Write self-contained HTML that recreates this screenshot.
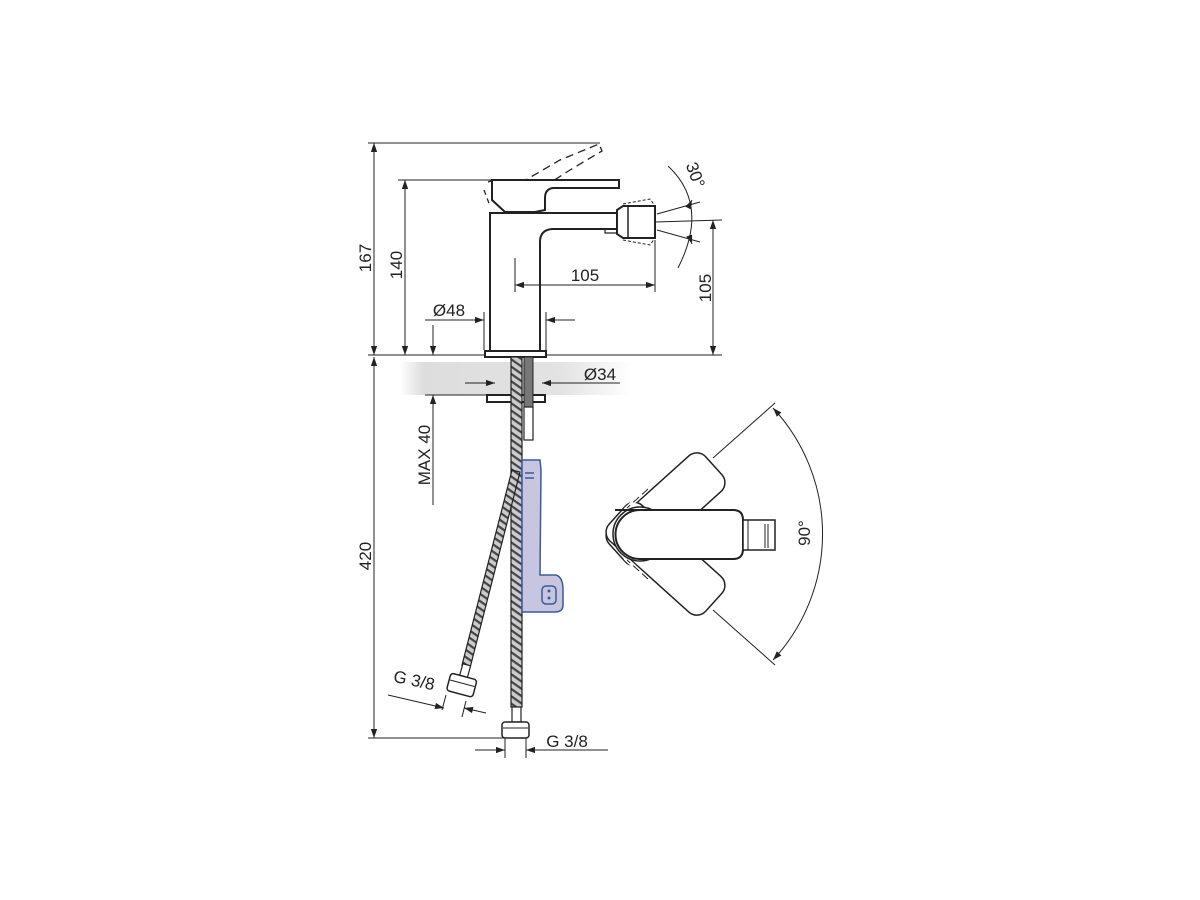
<!DOCTYPE html>
<html><head><meta charset="utf-8"><style>
html,body{margin:0;padding:0;background:#fff;width:1200px;height:900px;overflow:hidden}
svg{display:block}
text{font-family:"Liberation Sans",sans-serif;font-size:17px;fill:#222}
</style></head><body>
<svg width="1200" height="900" viewBox="0 0 1200 900" xmlns="http://www.w3.org/2000/svg">
<defs>
<marker id="a" viewBox="0 0 10 10" refX="10" refY="5" markerWidth="9" markerHeight="9" orient="auto-start-reverse" markerUnits="userSpaceOnUse"><path d="M0,1.5 L10,5 L0,8.5 z" fill="#222"/></marker>
<pattern id="h" width="6" height="6" patternUnits="userSpaceOnUse" patternTransform="rotate(35)"><rect width="6" height="6" fill="#ccc"/><rect width="6" height="2.2" fill="#444"/></pattern>
<linearGradient id="g" x1="0" x2="1" y1="0" y2="0"><stop offset="0" stop-color="#fff"/><stop offset="0.1" stop-color="#ddd"/><stop offset="0.7" stop-color="#e3e3e3"/><stop offset="1" stop-color="#fff"/></linearGradient>
</defs>
<g stroke="#222" fill="none" stroke-width="1">
<!-- counter band -->
<rect x="400" y="362" width="232" height="33" fill="url(#g)" stroke="none"/>
<!-- 167 -->
<line x1="368" y1="143" x2="600" y2="143"/>
<line x1="374" y1="143" x2="374" y2="355" marker-start="url(#a)" marker-end="url(#a)"/>
<!-- 140 -->
<line x1="398" y1="180" x2="492" y2="180"/>
<line x1="405" y1="180" x2="405" y2="355" marker-start="url(#a)" marker-end="url(#a)"/>
<!-- ground -->
<line x1="368" y1="355" x2="722" y2="355"/>
<!-- 420 -->
<line x1="374" y1="357" x2="374" y2="738" marker-start="url(#a)" marker-end="url(#a)"/>
<line x1="368" y1="738" x2="505" y2="738"/>
<!-- dashed handle -->
<path d="M498,196 L560,160 L599,144 L602,151 L570,170 L528,197" stroke-dasharray="8,5" stroke-width="1.3"/>
<path d="M488,182 L494,180 M484,190 L490,206" stroke-dasharray="5,4" stroke-width="1.3"/>
<!-- body -->
<path d="M490,355 L490,213 L617,213 L617,229 L552,229 Q540,230 540,242 L540,355" stroke-width="2" fill="#fff"/>
<path d="M605,229 L605,233 L617,233" stroke-width="1.2"/>
<!-- handle -->
<path d="M492,180 L619,180 L619,188 L553,188 Q545,189 545,198 L545,210 L535,212 L505,212 L492,200 Z" stroke-width="2" fill="#fff"/>
<!-- aerator -->
<path d="M617,210 L623,206 L655,206 L655,238 L623,238 L617,234 Z" stroke-width="2" fill="#fff"/>
<line x1="628" y1="206" x2="628" y2="238" stroke-width="1.5"/>
<path d="M623,204 L650,199 L655,206 M623,240 L650,245 L655,238" stroke-dasharray="3,2"/>
<line x1="655" y1="222" x2="722" y2="220"/>
<line x1="657" y1="214" x2="700" y2="202"/>
<line x1="657" y1="230" x2="700" y2="242"/>
<path d="M668,166 Q710,205 678,268" />
<path d="M690,204 L692,200" marker-end="url(#a)"/>
<path d="M690,238 L692,244" marker-end="url(#a)"/>
<!-- 105 horiz -->
<line x1="515" y1="258" x2="515" y2="292"/>
<line x1="655" y1="240" x2="655" y2="292"/>
<line x1="515" y1="285" x2="655" y2="285" marker-start="url(#a)" marker-end="url(#a)"/>
<!-- 105 vert -->
<line x1="713" y1="220" x2="713" y2="355" marker-start="url(#a)" marker-end="url(#a)"/>
<!-- base -->
<rect x="485" y="351" width="61" height="6" stroke-width="2" fill="#fff"/>
<!-- Ø48 -->
<line x1="484" y1="312" x2="484" y2="350"/>
<line x1="546" y1="312" x2="546" y2="350"/>
<line x1="425" y1="320" x2="484" y2="320" marker-end="url(#a)"/>
<line x1="575" y1="320" x2="546" y2="320" marker-end="url(#a)"/>
<!-- MAX 40 -->
<line x1="433" y1="325" x2="433" y2="355" marker-end="url(#a)"/>
<line x1="433" y1="505" x2="433" y2="395" marker-end="url(#a)"/>
<line x1="425" y1="395" x2="487" y2="395"/>
<!-- Ø34 -->
<line x1="465" y1="383" x2="495" y2="383" marker-end="url(#a)"/>
<line x1="620" y1="383" x2="542" y2="383" marker-end="url(#a)"/>
<!-- lower plate -->
<rect x="487" y="395" width="58" height="7" stroke-width="2" fill="#fff"/>
<!-- hoses -->
<rect x="511" y="357" width="11" height="350" fill="url(#h)" stroke-width="1.2"/>
<rect x="524" y="357" width="9" height="50" fill="#777" stroke-width="1"/>
<rect x="524" y="407" width="9" height="33" fill="#fff" stroke-width="1.2"/>
<path d="M512,470 L520,472 L470,668 L462,665 Z" fill="url(#h)" stroke-width="1.2"/>
<!-- blue bracket -->
<path d="M522,460 L540,460 L541,470 L540,575 L556,575 Q563,577 563,590 L563,605 Q563,612 555,612 L522,612 Z" fill="#c7c5e0" stroke="#3a5a9a" stroke-width="1.5"/>
<line x1="525" y1="473" x2="534" y2="473" stroke="#3a5a9a" stroke-width="1.5"/>
<line x1="525" y1="478" x2="534" y2="478" stroke="#3a5a9a" stroke-width="1.5"/>
<rect x="542" y="586" width="14" height="18" rx="4" stroke="#3a5a9a" stroke-width="1.5"/>
<circle cx="549" cy="591" r="1.5" fill="#3a5a9a" stroke="none"/><circle cx="549" cy="598" r="1.5" fill="#3a5a9a" stroke="none"/>
<!-- fittings -->
<g transform="rotate(15 461 686)">
<rect x="457" y="664" width="8" height="12" fill="#fff" stroke-width="1.2"/>
<rect x="448" y="676" width="27" height="18" rx="3" fill="#fff" stroke-width="1.5"/>
<line x1="449" y1="683" x2="474" y2="683"/>
</g>
<rect x="512" y="707" width="9" height="15" fill="#fff" stroke-width="1.2"/>
<rect x="502" y="722" width="27" height="16" rx="3" fill="#fff" stroke-width="1.5"/>
<line x1="503" y1="728" x2="528" y2="728"/>
<!-- G3/8 dims -->
<line x1="505" y1="738" x2="505" y2="758"/>
<line x1="526" y1="738" x2="526" y2="758"/>
<line x1="475" y1="750" x2="505" y2="750" marker-end="url(#a)"/>
<line x1="608" y1="750" x2="526" y2="750" marker-end="url(#a)"/>
<line x1="446" y1="695" x2="442" y2="710"/>
<line x1="466" y1="701" x2="462" y2="717"/>
<line x1="388" y1="695" x2="444" y2="708" marker-end="url(#a)"/>
<line x1="486" y1="713" x2="464" y2="708" marker-end="url(#a)"/>
<!-- top view ghosts -->
<g transform="rotate(-42 638 534)"><rect x="610" y="510" width="130" height="48" rx="12" fill="#fff" stroke-width="1.5"/></g>
<g transform="rotate(42 638 534)"><rect x="610" y="510" width="130" height="48" rx="12" fill="#fff" stroke-width="1.5"/></g>
<path d="M650,487 L625,510" stroke="#fff" stroke-width="4"/>
<path d="M650,581 L625,558" stroke="#fff" stroke-width="4"/>
<line x1="648" y1="489" x2="627" y2="508" stroke-dasharray="8,4"/>
<line x1="648" y1="579" x2="627" y2="560" stroke-dasharray="8,4"/>
<circle cx="640" cy="534" r="27" fill="#fff" stroke-width="1.5"/>
<path d="M615,510 L733,510 Q743,510 743,520 L743,549 Q743,559 733,559 L640,559 A24.5,24.5 0 0 1 640,510 Z" fill="#fff" stroke-width="2"/>
<rect x="743" y="520" width="32" height="30" fill="#fff" stroke-width="1.5"/>
<line x1="748" y1="520" x2="748" y2="550"/>
<line x1="765" y1="524" x2="765" y2="548"/><line x1="768" y1="524" x2="768" y2="548"/>
<line x1="713" y1="458" x2="775" y2="403"/>
<line x1="713" y1="610" x2="775" y2="665"/>
<path d="M773,408 A185,185 0 0 1 773,660" marker-start="url(#a)" marker-end="url(#a)"/>
</g>
<text x="0" y="0" transform="translate(371,258) rotate(-90)" text-anchor="middle">167</text>
<text x="0" y="0" transform="translate(402,265) rotate(-90)" text-anchor="middle">140</text>
<text x="585" y="281" text-anchor="middle">105</text>
<text x="0" y="0" transform="translate(711,288) rotate(-90)" text-anchor="middle">105</text>
<text x="449" y="316" text-anchor="middle">Ø48</text>
<text x="600" y="380" text-anchor="middle">Ø34</text>
<text x="0" y="0" transform="translate(430,455) rotate(-90)" text-anchor="middle">MAX 40</text>
<text x="0" y="0" transform="translate(371,556) rotate(-90)" text-anchor="middle">420</text>
<text x="0" y="0" transform="translate(690,177) rotate(70)" text-anchor="middle">30°</text>
<text x="0" y="0" transform="translate(810,533) rotate(-90)" text-anchor="middle">90°</text>
<text x="0" y="0" transform="translate(413,686) rotate(12)" text-anchor="middle">G 3/8</text>
<text x="567" y="747" text-anchor="middle">G 3/8</text>
</svg>
</body></html>
